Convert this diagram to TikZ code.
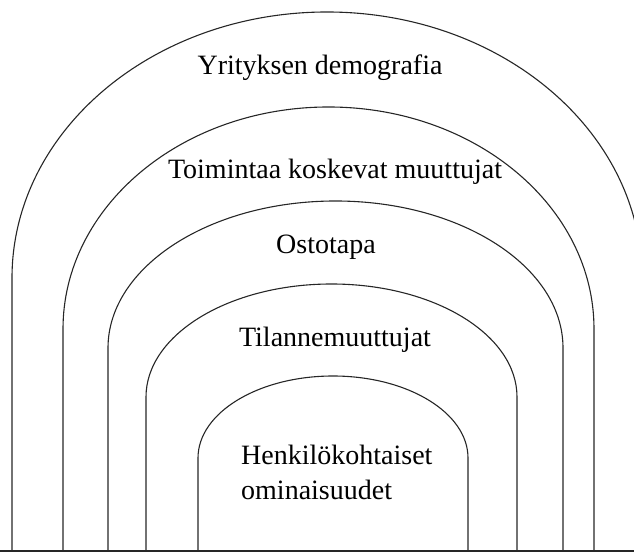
\documentclass[tikz,border=0pt]{standalone}
\usepackage{fontspec}
\setmainfont{Liberation Serif}

\begin{document}
\begin{tikzpicture}[x=1pt, y=1pt,
  arch/.style={draw=black!85, line width=1.1pt},
  lbl/.style={font=\fontsize{28}{35}\selectfont, inner sep=0pt, align=left}
]
  \clip (0,0) rectangle (634,553);

  % ground line
  \draw[arch] (0,2) -- (634,2);

  % arches, outermost first
  \draw[arch] (12,2) -- (12,275)
    arc[start angle=180, end angle=0, x radius=315pt, y radius=266pt] -- (642,2);
  \draw[arch] (63,2) -- (63,224)
    arc[start angle=180, end angle=0, x radius=265.5pt, y radius=222pt] -- (594,2);
  \draw[arch] (108,2) -- (108,205)
    arc[start angle=180, end angle=0, x radius=227.5pt, y radius=147pt] -- (563,2);
  \draw[arch] (146,2) -- (146,156)
    arc[start angle=180, end angle=0, x radius=185.5pt, y radius=113pt] -- (517,2);
  \draw[arch] (198,2) -- (198,95)
    arc[start angle=180, end angle=0, x radius=135pt, y radius=82pt] -- (468,2);

  % labels
  \node[lbl] (demo)   at (320,485) {Yrityksen demografia};
  \node[lbl] (oper)   at (335,381) {Toimintaa koskevat muuttujat};
  \node[lbl] (buy)    at (326,306) {Ostotapa};
  \node[lbl] (situ)   at (335,213) {Tilannemuuttujat};
  \node[lbl, anchor=west] (pers) at (241,81)
    {Henkilökohtaiset\\ominaisuudet};
\end{tikzpicture}
\end{document}
